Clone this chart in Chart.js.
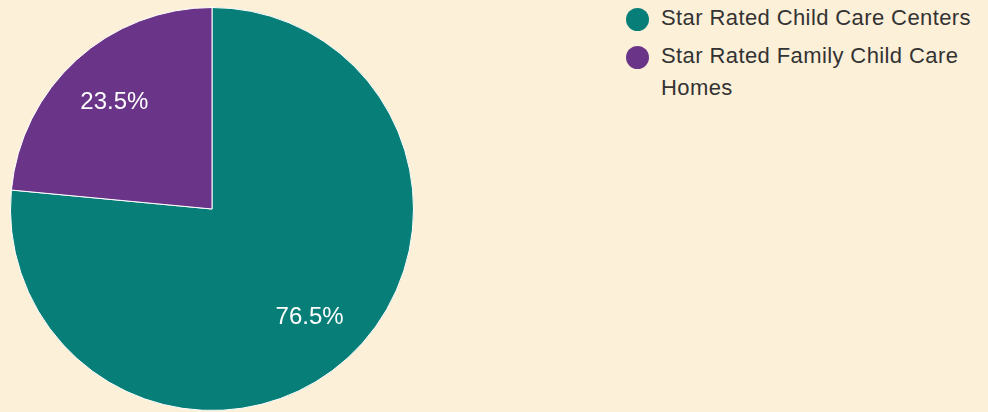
<!DOCTYPE html>
<html>
<head>
<meta charset="utf-8">
<script src="https://cdn.jsdelivr.net/npm/chart.js@4"></script>
<style>
    body { margin: 0; background: #fdf0d9; width: 988px; height: 412px; overflow: hidden; font-family: Arial, "Liberation Sans", sans-serif; }
    #chartWrap { position: absolute; left: 9px; top: 6px; width: 406px; height: 406px; }
    #legend { position: absolute; left: 626px; top: 2px; width: 350px; }
    .item { display: flex; align-items: flex-start; margin-bottom: 6px; }
    .dot { width: 23px; height: 23px; border-radius: 50%; margin-right: 12px; margin-top: 6px; flex: none; }
    .label { font-size: 22px; letter-spacing: 0.4px; color: #333; line-height: 32px; }
</style>
</head>
<body>
<div id="chartWrap"><canvas id="pie" width="406" height="406"></canvas></div>
<div id="legend"></div>
<script>
document.addEventListener('DOMContentLoaded', () => {
    const categories = ['Star Rated Child Care Centers', 'Star Rated Family Child Care Homes'];
    const shares = [76.5, 23.5];
    const colors = ['#077f78', '#6a3589'];

    // Legend as plain html
    const legend = document.getElementById('legend');
    categories.forEach((name, i) => {
        const item = document.createElement('div');
        item.className = 'item';
        item.innerHTML = `<span class="dot" style="background:${colors[i]}"></span><span class="label">${name}</span>`;
        legend.appendChild(item);
    });

    // Percent labels inside the slices
    const sliceLabels = {
        id: 'sliceLabels',
        afterDatasetsDraw(chart) {
            const ctx = chart.ctx;
            const meta = chart.getDatasetMeta(0);
            ctx.save();
            ctx.fillStyle = '#ffffff';
            ctx.font = '24px Arial, "Liberation Sans", sans-serif';
            ctx.textAlign = 'center';
            ctx.textBaseline = 'middle';
            meta.data.forEach((arc, i) => {
                const mid = (arc.startAngle + arc.endAngle) / 2;
                const r = arc.outerRadius * 0.72;
                ctx.fillText(shares[i].toFixed(1) + '%', arc.x + Math.cos(mid) * r, arc.y + Math.sin(mid) * r + 1);
            });
            ctx.restore();
        }
    };

    new Chart(document.getElementById('pie').getContext('2d'), {
        type: 'pie',
        data: {
            labels: categories,
            datasets: [{
                data: shares,
                backgroundColor: colors,
                borderColor: '#ffffff',
                borderWidth: 1
            }]
        },
        options: {
            responsive: false,
            animation: false,
            layout: { padding: 1 },
            plugins: {
                legend: { display: false },
                tooltip: { enabled: false }
            }
        },
        plugins: [sliceLabels]
    });
});
</script>
</body>
</html>
